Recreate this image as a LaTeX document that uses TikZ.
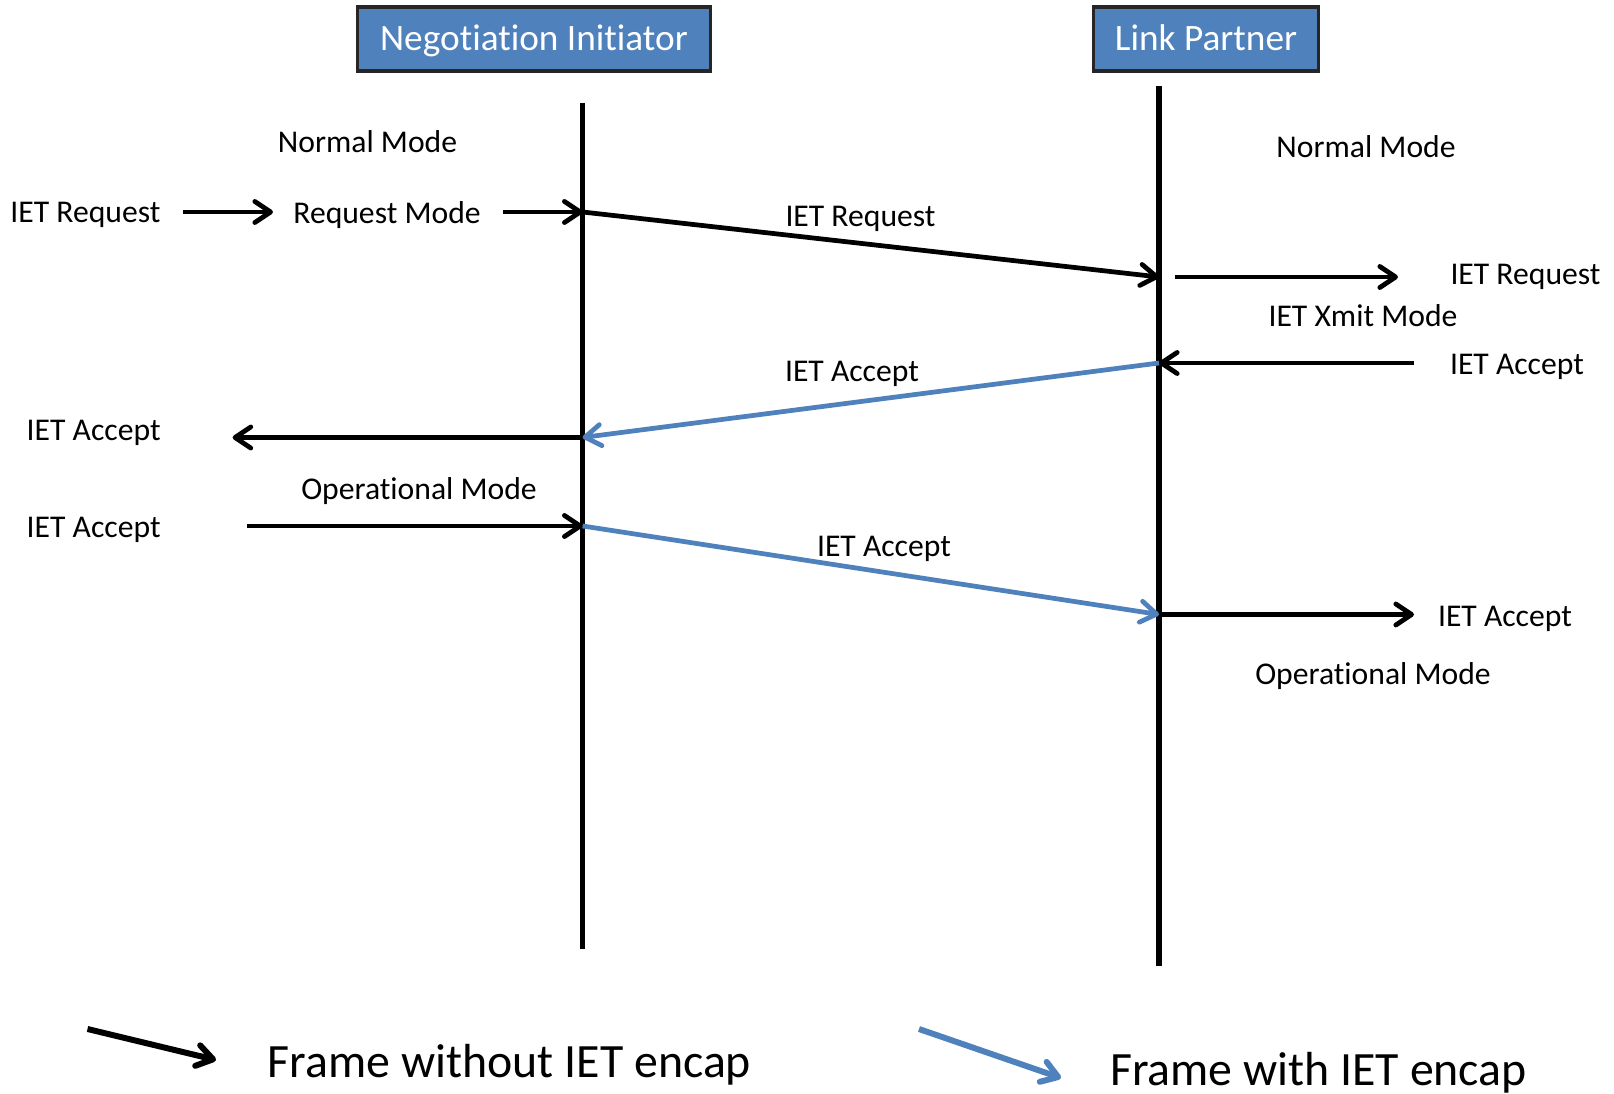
\documentclass[tikz,border=0pt]{standalone}
\usepackage{fontspec}
\setmainfont{Carlito}[Ligatures={NoCommon,NoContextual},Contextuals=NoAlternate]
\usetikzlibrary{arrows.meta}
\definecolor{ietblue}{RGB}{79,129,189}

\begin{document}
\begin{tikzpicture}[x=0.01cm,y=-0.01cm,line width=1.35pt,
	>={Straight Barb[length=4.5pt,width=6pt,line cap=round,line join=round]}]
    \tikzstyle{party}=[draw=black!85,line width=0.9pt,fill=ietblue,text=white,
        font=\fontsize{10.6}{13}\selectfont,minimum height=0.64cm,inner sep=0pt,
        text height=0.68em,text depth=0pt]
    \tikzstyle{lbl}=[font=\fontsize{9}{11}\selectfont,inner sep=0pt,yshift=-0.03cm]
    \tikzstyle{legend}=[font=\fontsize{13.6}{16}\selectfont,inner sep=0pt,yshift=-0.02cm]
    \tikzstyle{msg}=[->]
    \tikzstyle{encap}=[->,draw=ietblue]
    \tikzstyle{lifeline}=[line width=1.5pt]

    \useasboundingbox (0,0) rectangle (1614,1094);

    % Draw the two parties and their lifelines
    \node[party,minimum width=3.52cm] (NI) at (534,39) {Negotiation Initiator};
    \node[party,minimum width=2.245cm] (LP) at (1206,39) {Link Partner};
    \coordinate (NI-top) at (582.6,103);
    \coordinate (NI-bot) at (582.6,949);
    \coordinate (LP-top) at (1159,86.5);
    \coordinate (LP-bot) at (1159,965.5);
    \draw[lifeline] (NI-top) -- (NI-bot);
    \draw[lifeline] (LP-top) -- (LP-bot);

    % Points where the frames meet the lifelines
    \coordinate (NI-1) at (582.6,212);
    \coordinate (LP-1) at (1159,277);
    \coordinate (LP-2) at (1159,363);
    \coordinate (NI-2) at (582.6,437.5);
    \coordinate (NI-3) at (582.6,526);
    \coordinate (LP-3) at (1159,614.5);

    % Initiator side
    \node[lbl] (ni-normal) at (367.5,139) {Normal Mode};
    \node[lbl] (ni-req-in) at (85.4,212) {IET Request};
    \node[lbl] (ni-reqmode) at (387,212) {Request Mode};
    \node[lbl] (ni-acc-out) at (93.7,430) {IET Accept};
    \node[lbl] (ni-oper) at (419,488) {Operational Mode};
    \node[lbl] (ni-acc-in) at (93.7,527) {IET Accept};
    \coordinate (a1) at (183,212);
    \coordinate (a2) at (273,212);
    \coordinate (a3) at (503,212);
    \coordinate (a4) at (232.6,437.5);
    \coordinate (a5) at (247,526);
    \draw[msg] (a1) -- (a2);
    \draw[msg] (a3) -- (NI-1);
    \draw[msg] (NI-2) -- (a4);
    \draw[msg] (a5) -- (NI-3);

    % Link partner side
    \node[lbl] (lp-normal) at (1366,144) {Normal Mode};
    \node[lbl] (lp-req-out) at (1525.5,274) {IET Request};
    \node[lbl] (lp-xmit) at (1363,313) {IET Xmit Mode};
    \node[lbl] (lp-acc-in) at (1517,364) {IET Accept};
    \node[lbl] (lp-acc-out) at (1505,615.5) {IET Accept};
    \node[lbl] (lp-oper) at (1373,673) {Operational Mode};
    \coordinate (b1) at (1174.5,277);
    \coordinate (b2) at (1398,277);
    \coordinate (b3) at (1414,363);
    \coordinate (b4) at (1414,614.5);
    \draw[msg] (b1) -- (b2);
    \draw[msg] (b3) -- (LP-2);
    \draw[msg] (LP-3) -- (b4);

    % Frames between the two parties
    \draw[msg] (NI-1) -- (LP-1);
    \draw[encap] (LP-2) -- (NI-2);
    \draw[encap] (NI-3) -- (LP-3);
    \node[lbl] (m1) at (860.5,216) {IET Request};
    \node[lbl] (m2) at (852,370.5) {IET Accept};
    \node[lbl] (m3) at (884,545.5) {IET Accept};

    % Legend
    \coordinate (k1) at (87.5,1029);
    \coordinate (k2) at (216,1060);
    \coordinate (k3) at (919,1029);
    \coordinate (k4) at (1061,1078);
    \draw[msg,line width=1.7pt] (k1) -- (k2);
    \draw[encap,line width=1.7pt] (k3) -- (k4);
    \node[legend] (key-plain) at (509.5,1063) {Frame without IET encap};
    \node[legend] (key-encap) at (1318.5,1070.5) {Frame with IET encap};
\end{tikzpicture}
\end{document}
